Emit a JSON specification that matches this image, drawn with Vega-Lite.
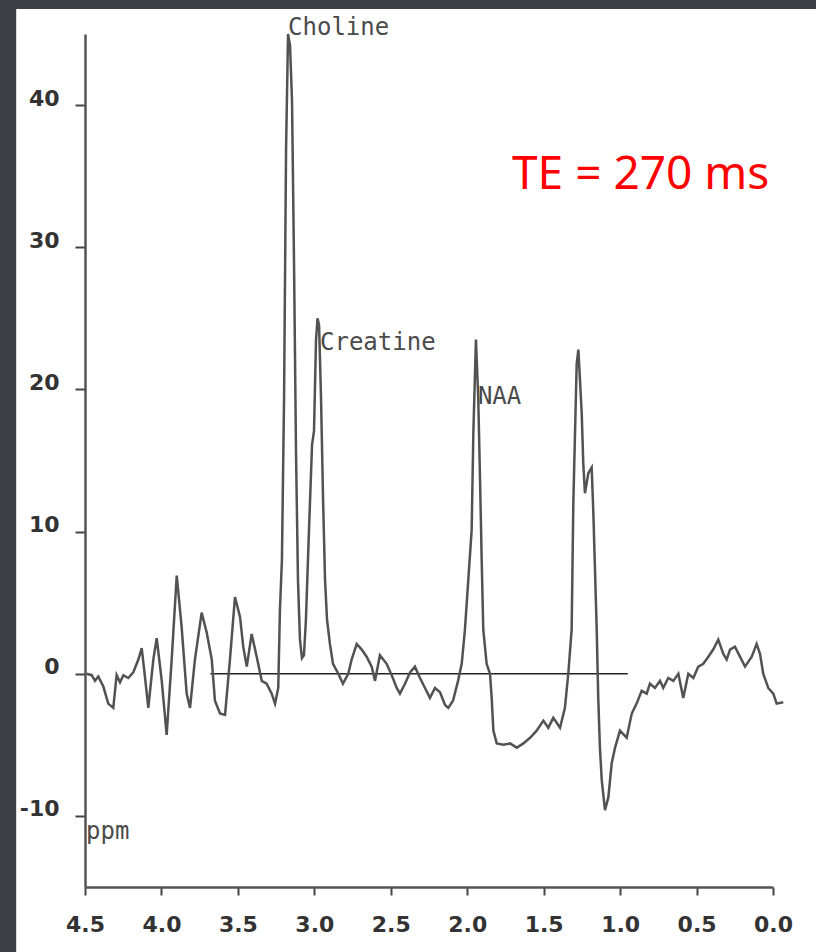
{
  "$schema": "https://vega.github.io/schema/vega-lite/v6.json",
  "width": 688,
  "height": 853,
  "autosize": {"type": "none"},
  "padding": {"left": 85, "top": 34, "right": 43, "bottom": 65},
  "background": "#3d4046",
  "config": {"view": {"stroke": null}},
  "datasets": {
    "spectrum": [
      {"ppm": 4.489, "value": 0.0}, {"ppm": 4.456, "value": -0.1}, {"ppm": 4.435, "value": -0.5}, {"ppm": 4.413, "value": -0.2},
      {"ppm": 4.380, "value": -0.9}, {"ppm": 4.348, "value": -2.1}, {"ppm": 4.315, "value": -2.4}, {"ppm": 4.293, "value": -0.1},
      {"ppm": 4.271, "value": -0.6}, {"ppm": 4.249, "value": -0.1}, {"ppm": 4.217, "value": -0.3}, {"ppm": 4.184, "value": 0.1},
      {"ppm": 4.151, "value": 1.0}, {"ppm": 4.129, "value": 1.8}, {"ppm": 4.108, "value": -0.2}, {"ppm": 4.086, "value": -2.4},
      {"ppm": 4.053, "value": 1.0}, {"ppm": 4.031, "value": 2.5}, {"ppm": 3.998, "value": -0.5}, {"ppm": 3.966, "value": -4.3},
      {"ppm": 3.933, "value": 1.0}, {"ppm": 3.900, "value": 6.9}, {"ppm": 3.868, "value": 3.3}, {"ppm": 3.835, "value": -1.4},
      {"ppm": 3.813, "value": -2.4}, {"ppm": 3.781, "value": 1.0}, {"ppm": 3.737, "value": 4.3}, {"ppm": 3.704, "value": 2.9},
      {"ppm": 3.671, "value": 1.0}, {"ppm": 3.650, "value": -1.9}, {"ppm": 3.617, "value": -2.8}, {"ppm": 3.584, "value": -2.9},
      {"ppm": 3.552, "value": 1.0}, {"ppm": 3.519, "value": 5.4}, {"ppm": 3.486, "value": 4.0}, {"ppm": 3.465, "value": 1.9},
      {"ppm": 3.442, "value": 0.5}, {"ppm": 3.410, "value": 2.8}, {"ppm": 3.377, "value": 1.2}, {"ppm": 3.344, "value": -0.5},
      {"ppm": 3.312, "value": -0.7}, {"ppm": 3.279, "value": -1.4}, {"ppm": 3.257, "value": -2.1}, {"ppm": 3.236, "value": -1.0},
      {"ppm": 3.225, "value": 4.5}, {"ppm": 3.212, "value": 8.0}, {"ppm": 3.198, "value": 19.4}, {"ppm": 3.185, "value": 36.8},
      {"ppm": 3.172, "value": 45.0}, {"ppm": 3.159, "value": 44.2}, {"ppm": 3.146, "value": 40.3}, {"ppm": 3.133, "value": 29.1},
      {"ppm": 3.120, "value": 15.7}, {"ppm": 3.107, "value": 6.6}, {"ppm": 3.094, "value": 2.4}, {"ppm": 3.081, "value": 1.1},
      {"ppm": 3.068, "value": 1.3}, {"ppm": 3.055, "value": 3.8}, {"ppm": 3.035, "value": 10.1}, {"ppm": 3.015, "value": 16.1},
      {"ppm": 3.002, "value": 17.1}, {"ppm": 2.989, "value": 23.5}, {"ppm": 2.979, "value": 25.0}, {"ppm": 2.969, "value": 24.5},
      {"ppm": 2.956, "value": 19.3}, {"ppm": 2.943, "value": 12.3}, {"ppm": 2.930, "value": 6.6}, {"ppm": 2.917, "value": 3.8},
      {"ppm": 2.898, "value": 2.1}, {"ppm": 2.878, "value": 0.7}, {"ppm": 2.843, "value": 0.0}, {"ppm": 2.813, "value": -0.7},
      {"ppm": 2.778, "value": 0.0}, {"ppm": 2.756, "value": 1.0}, {"ppm": 2.723, "value": 2.1}, {"ppm": 2.690, "value": 1.7},
      {"ppm": 2.658, "value": 1.2}, {"ppm": 2.625, "value": 0.5}, {"ppm": 2.603, "value": -0.5}, {"ppm": 2.571, "value": 1.3},
      {"ppm": 2.527, "value": 0.7}, {"ppm": 2.494, "value": -0.1}, {"ppm": 2.461, "value": -1.0}, {"ppm": 2.440, "value": -1.4},
      {"ppm": 2.407, "value": -0.7}, {"ppm": 2.374, "value": 0.1}, {"ppm": 2.342, "value": 0.5}, {"ppm": 2.309, "value": -0.3},
      {"ppm": 2.276, "value": -1.0}, {"ppm": 2.244, "value": -1.7}, {"ppm": 2.211, "value": -1.0}, {"ppm": 2.178, "value": -1.3},
      {"ppm": 2.145, "value": -2.2}, {"ppm": 2.124, "value": -2.4}, {"ppm": 2.093, "value": -1.9}, {"ppm": 2.060, "value": -0.5},
      {"ppm": 2.036, "value": 0.7}, {"ppm": 2.015, "value": 3.1}, {"ppm": 1.993, "value": 6.6}, {"ppm": 1.971, "value": 10.1},
      {"ppm": 1.960, "value": 16.9}, {"ppm": 1.943, "value": 23.5}, {"ppm": 1.928, "value": 19.4}, {"ppm": 1.916, "value": 13.6},
      {"ppm": 1.905, "value": 7.8}, {"ppm": 1.895, "value": 3.1}, {"ppm": 1.873, "value": 0.7}, {"ppm": 1.851, "value": 0.0},
      {"ppm": 1.840, "value": -1.7}, {"ppm": 1.829, "value": -4.0}, {"ppm": 1.807, "value": -4.9}, {"ppm": 1.764, "value": -5.0},
      {"ppm": 1.720, "value": -4.9}, {"ppm": 1.676, "value": -5.2}, {"ppm": 1.633, "value": -4.9}, {"ppm": 1.589, "value": -4.5},
      {"ppm": 1.546, "value": -4.0}, {"ppm": 1.502, "value": -3.3}, {"ppm": 1.470, "value": -3.8}, {"ppm": 1.437, "value": -3.1},
      {"ppm": 1.393, "value": -3.8}, {"ppm": 1.361, "value": -2.4}, {"ppm": 1.339, "value": 0.0}, {"ppm": 1.317, "value": 3.1},
      {"ppm": 1.306, "value": 12.0}, {"ppm": 1.284, "value": 21.8}, {"ppm": 1.273, "value": 22.8}, {"ppm": 1.251, "value": 18.3},
      {"ppm": 1.241, "value": 14.8}, {"ppm": 1.230, "value": 12.7}, {"ppm": 1.208, "value": 14.1}, {"ppm": 1.186, "value": 14.5},
      {"ppm": 1.175, "value": 11.3}, {"ppm": 1.153, "value": 3.1}, {"ppm": 1.143, "value": -1.7}, {"ppm": 1.132, "value": -5.2},
      {"ppm": 1.120, "value": -7.5}, {"ppm": 1.099, "value": -9.6}, {"ppm": 1.077, "value": -8.7}, {"ppm": 1.055, "value": -6.3},
      {"ppm": 1.033, "value": -5.2}, {"ppm": 1.001, "value": -4.0}, {"ppm": 0.957, "value": -4.5}, {"ppm": 0.924, "value": -2.8},
      {"ppm": 0.892, "value": -2.1}, {"ppm": 0.859, "value": -1.2}, {"ppm": 0.826, "value": -1.4}, {"ppm": 0.805, "value": -0.7},
      {"ppm": 0.772, "value": -1.0}, {"ppm": 0.739, "value": -0.5}, {"ppm": 0.718, "value": -1.0}, {"ppm": 0.685, "value": -0.3},
      {"ppm": 0.652, "value": -0.5}, {"ppm": 0.619, "value": 0.0}, {"ppm": 0.587, "value": -1.7}, {"ppm": 0.554, "value": 0.0},
      {"ppm": 0.521, "value": -0.3}, {"ppm": 0.489, "value": 0.5}, {"ppm": 0.456, "value": 0.7}, {"ppm": 0.423, "value": 1.2},
      {"ppm": 0.391, "value": 1.7}, {"ppm": 0.358, "value": 2.4}, {"ppm": 0.325, "value": 1.4}, {"ppm": 0.303, "value": 1.0},
      {"ppm": 0.281, "value": 1.7}, {"ppm": 0.249, "value": 1.9}, {"ppm": 0.216, "value": 1.2}, {"ppm": 0.183, "value": 0.5},
      {"ppm": 0.139, "value": 1.2}, {"ppm": 0.107, "value": 2.1}, {"ppm": 0.085, "value": 1.4}, {"ppm": 0.064, "value": 0.0},
      {"ppm": 0.031, "value": -1.0}, {"ppm": -0.002, "value": -1.4}, {"ppm": -0.024, "value": -2.1}, {"ppm": -0.067, "value": -2.0}
    ],
    "labels": [
      {"ppm": 3.172, "value": 44.9, "label": "Choline"},
      {"ppm": 2.963, "value": 22.75, "label": "Creatine"},
      {"ppm": 1.930, "value": 19.0, "label": "NAA"},
      {"ppm": 4.493, "value": -11.6, "label": "ppm"}
    ],
    "note": [
      {"ppm": 1.707, "value": 34.1, "label": "TE = 270 ms"}
    ]
  },
  "layer": [
    {
      "data": {"values": [{}]},
      "mark": {"type": "rect", "color": "white"},
      "encoding": {
        "x": {"datum": 4.95, "type": "quantitative", "scale": {"domain": [0, 4.5], "reverse": true, "nice": false, "zero": false}},
        "x2": {"datum": -0.4},
        "y": {"datum": 46.75, "type": "quantitative", "scale": {"domain": [-15, 45], "nice": false, "zero": false}},
        "y2": {"datum": -21}
      }
    },
    {
      "data": {"values": [{}]},
      "mark": {"type": "rule", "color": "#222222", "strokeWidth": 1.5},
      "encoding": {
        "x": {"datum": 3.68, "type": "quantitative"},
        "x2": {"datum": 0.95},
        "y": {"datum": 0, "type": "quantitative"}
      }
    },
    {
      "data": {"name": "spectrum"},
      "mark": {"type": "line", "color": "#525252", "strokeWidth": 2.5},
      "encoding": {
        "x": {
          "field": "ppm", "type": "quantitative",
          "scale": {"domain": [0, 4.5], "reverse": true, "nice": false, "zero": false},
          "axis": {
            "zindex": 2,
            "values": [4.5, 4, 3.5, 3, 2.5, 2, 1.5, 1, 0.5, 0],
            "format": ".1f", "title": null, "grid": false,
            "domainColor": "#555555", "domainWidth": 2.5,
            "tickColor": "#444444", "tickWidth": 2, "tickSize": 8,
            "labelFont": "DejaVu Sans", "labelFontWeight": "bold", "labelFontSize": 22,
            "labelColor": "#333333", "labelPadding": 19, "labelFlush": false, "labelOverlap": false
          }
        },
        "y": {
          "field": "value", "type": "quantitative",
          "scale": {"domain": [-15, 45], "nice": false, "zero": false},
          "axis": {
            "zindex": 2,
            "values": [-10, 0, 10, 20, 30, 40],
            "labelExpr": "datum.value < 0 ? '-' + abs(datum.value) : '' + datum.value",
            "title": null, "grid": false,
            "domainColor": "#555555", "domainWidth": 2.5,
            "tickColor": "#444444", "tickWidth": 2, "tickSize": 10,
            "labelFont": "DejaVu Sans", "labelFontWeight": "bold", "labelFontSize": 22,
            "labelColor": "#333333", "labelPadding": 16, "labelBaseline": "alphabetic",
            "labelFlush": false, "labelOverlap": false
          }
        }
      }
    },
    {
      "data": {"name": "labels"},
      "mark": {"type": "text", "align": "left", "baseline": "alphabetic", "font": "DejaVu Sans Mono", "fontSize": 24, "color": "#4a4a4a"},
      "encoding": {
        "x": {"field": "ppm", "type": "quantitative"},
        "y": {"field": "value", "type": "quantitative"},
        "text": {"field": "label"}
      }
    },
    {
      "data": {"name": "note"},
      "mark": {"type": "text", "align": "left", "baseline": "alphabetic", "font": "Noto Sans", "fontSize": 46, "color": "#ff0000"},
      "encoding": {
        "x": {"field": "ppm", "type": "quantitative"},
        "y": {"field": "value", "type": "quantitative"},
        "text": {"field": "label"}
      }
    }
  ]
}
